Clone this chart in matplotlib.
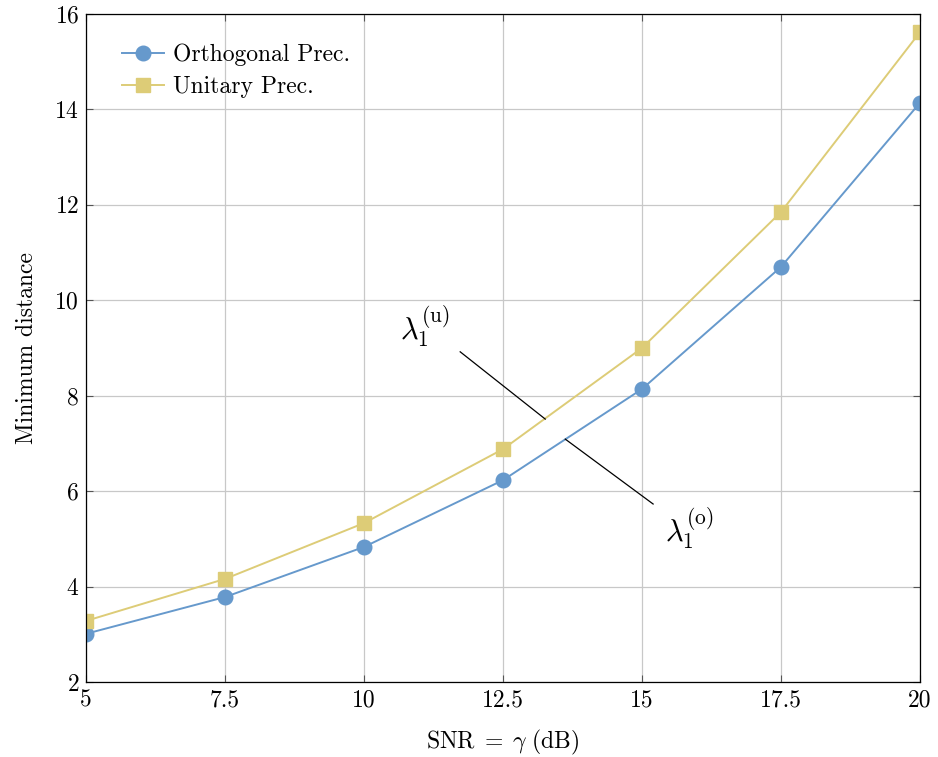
import matplotlib
matplotlib.use("Agg")
import matplotlib.pyplot as plt

plt.rcParams["font.family"] = ["cmr10", "DejaVu Serif"]
plt.rcParams["mathtext.fontset"] = "cm"
plt.rcParams["axes.formatter.use_mathtext"] = True

snr_db = [5, 7.5, 10, 12.5, 15, 17.5, 20]
orthogonal = [3.01, 3.78, 4.83, 6.23, 8.14, 10.70, 14.14]
unitary = [3.28, 4.16, 5.33, 6.88, 9.00, 11.85, 15.62]
x_ticks = [5, 7.5, 10, 12.5, 15, 17.5, 20]
x_tick_labels = ["5", "7.5", "10", "12.5", "15", "17.5", "20"]
y_ticks = [2, 4, 6, 8, 10, 12, 14, 16]

blue = "#6699CC"
yellow = "#DDCC77"
fs = 17

fig = plt.figure(figsize=(9.38, 7.57), dpi=100)
ax = fig.add_axes([0.0917, 0.0991, 0.8891, 0.8824])

ax.plot(snr_db, orthogonal, color=blue, marker="o", markersize=10.5, lw=1.4,
        label="Orthogonal Prec.")
ax.plot(snr_db, unitary, color=yellow, marker="s", markersize=9.5, lw=1.4,
        label="Unitary Prec.")

ax.set_xlim(5, 20)
ax.set_ylim(2, 16)
ax.set_xticks(x_ticks)
ax.set_xticklabels(x_tick_labels)
ax.set_yticks(y_ticks)
ax.grid(True, color="#c8c8c8", lw=0.9)
ax.set_axisbelow(True)
ax.tick_params(direction="in", length=5, width=0.8, color="#555555",
               labelsize=fs, top=True, right=True, pad=5)
for s in ax.spines.values():
    s.set_linewidth(0.9)

ax.set_xlabel(r"$\mathrm{SNR}\;=\;\gamma\ (\mathrm{dB})$", fontsize=fs, labelpad=12)
ax.set_ylabel("Minimum distance", fontsize=fs, labelpad=12)

# pointer lines to each curve
ax.plot([11.73, 13.26], [8.92, 7.51], color="black", lw=0.9)
ax.plot([13.62, 15.20], [7.09, 5.73], color="black", lw=0.9)
ax.text(11.1, 9.45, r"$\lambda_1^{(\mathrm{u})}$", fontsize=22, ha="center", va="center")
ax.text(15.85, 5.2, r"$\lambda_1^{(\mathrm{o})}$", fontsize=22, ha="center", va="center")

ax.legend(loc="upper left", bbox_to_anchor=(0.026, 0.977), frameon=False,
          fontsize=fs, handlelength=1.8, handletextpad=0.35, labelspacing=0.43,
          borderaxespad=0.2)

fig.savefig("out.png", dpi=100)
